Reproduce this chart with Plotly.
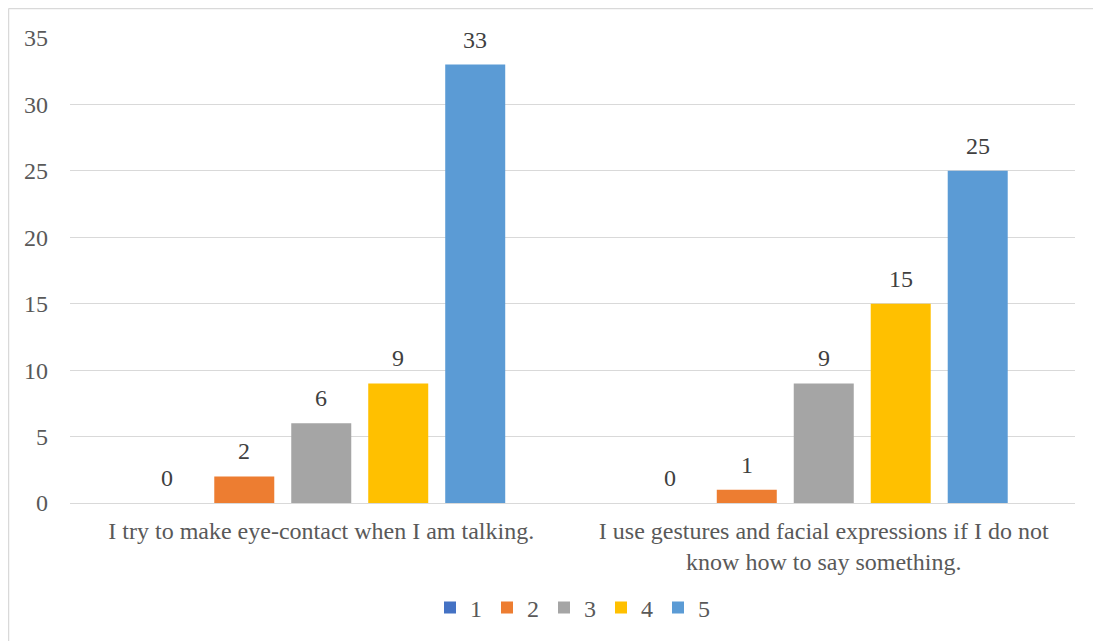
import plotly.graph_objects as go

categories = [
    "I try to make eye-contact when I am talking.",
    "I use gestures and facial expressions if I do not<br>know how to say something.",
]
series_names = ["1", "2", "3", "4", "5"]
values = {
    "1": [0, 0],
    "2": [2, 1],
    "3": [6, 9],
    "4": [9, 15],
    "5": [33, 25],
}
colors = ["#4472C4", "#ED7D31", "#A5A5A5", "#FFC000", "#5B9BD5"]
y_ticks = [0, 5, 10, 15, 20, 25, 30, 35]

FONT = "Liberation Serif, serif"
TXT = "#595959"
FS = 24

BAR_W = 0.1194
STEP = 0.1532

fig = go.Figure()
annotations = []
for j, (name, col) in enumerate(zip(series_names, colors)):
    off = (j - 2) * STEP - BAR_W / 2
    fig.add_trace(go.Bar(
        name=name, x=list(range(len(categories))), y=values[name], marker_color=col,
        marker_line_width=0, width=BAR_W, offset=off,
    ))
    for i, v in enumerate(values[name]):
        annotations.append(dict(
            x=i + off + BAR_W / 2, y=v, xref="x", yref="y", text=str(v),
            showarrow=False, yanchor="bottom", yshift=10,
            font=dict(family=FONT, size=FS, color="#404040"),
        ))

W, H = 1101, 641
L, R, T, B = 62, 34, 30, 146
pw, ph = W - L - R, H - T - B

fig.update_layout(
    width=W, height=H,
    margin=dict(l=L, r=R, t=T, b=B),
    paper_bgcolor="white", plot_bgcolor="white",
    barmode="overlay",
    font=dict(family=FONT, size=FS, color=TXT),
    showlegend=True,
    legend=dict(orientation="h", x=0.5, xanchor="center",
                y=(495 - 600) / ph, yanchor="middle",
                font=dict(family=FONT, size=FS, color=TXT),
                itemwidth=30, traceorder="normal",
                entrywidth=12, entrywidthmode="pixels"),
    xaxis=dict(range=[-0.5, 1.5], tickvals=list(range(len(categories))),
               ticktext=categories,
               showgrid=False, showline=True, linecolor="#D9D9D9", linewidth=1,
               ticks="", tickfont=dict(family=FONT, size=FS, color=TXT),
               ticklabelstandoff=6),
    yaxis=dict(range=[0, 35], tickvals=y_ticks, showgrid=True, gridcolor="#D9D9D9",
               gridwidth=1, zeroline=False, showline=False, ticks="",
               tickfont=dict(family=FONT, size=FS, color=TXT),
               ticklabelstandoff=21),
    annotations=annotations,
    shapes=[
        dict(type="line", xref="paper", yref="paper",
             x0=(0.5 - L) / pw, x1=(W + 20 - L) / pw,
             y0=(ph + T - 0.5) / ph, y1=(ph + T - 0.5) / ph,
             line=dict(color="#D9D9D9", width=1.5)),
        dict(type="line", xref="paper", yref="paper",
             x0=(0.5 - L) / pw, x1=(0.5 - L) / pw,
             y0=(ph + T - 0.5) / ph, y1=(-B - 20) / ph,
             line=dict(color="#D9D9D9", width=1.5)),
    ],
)

fig.write_html("out.html")
